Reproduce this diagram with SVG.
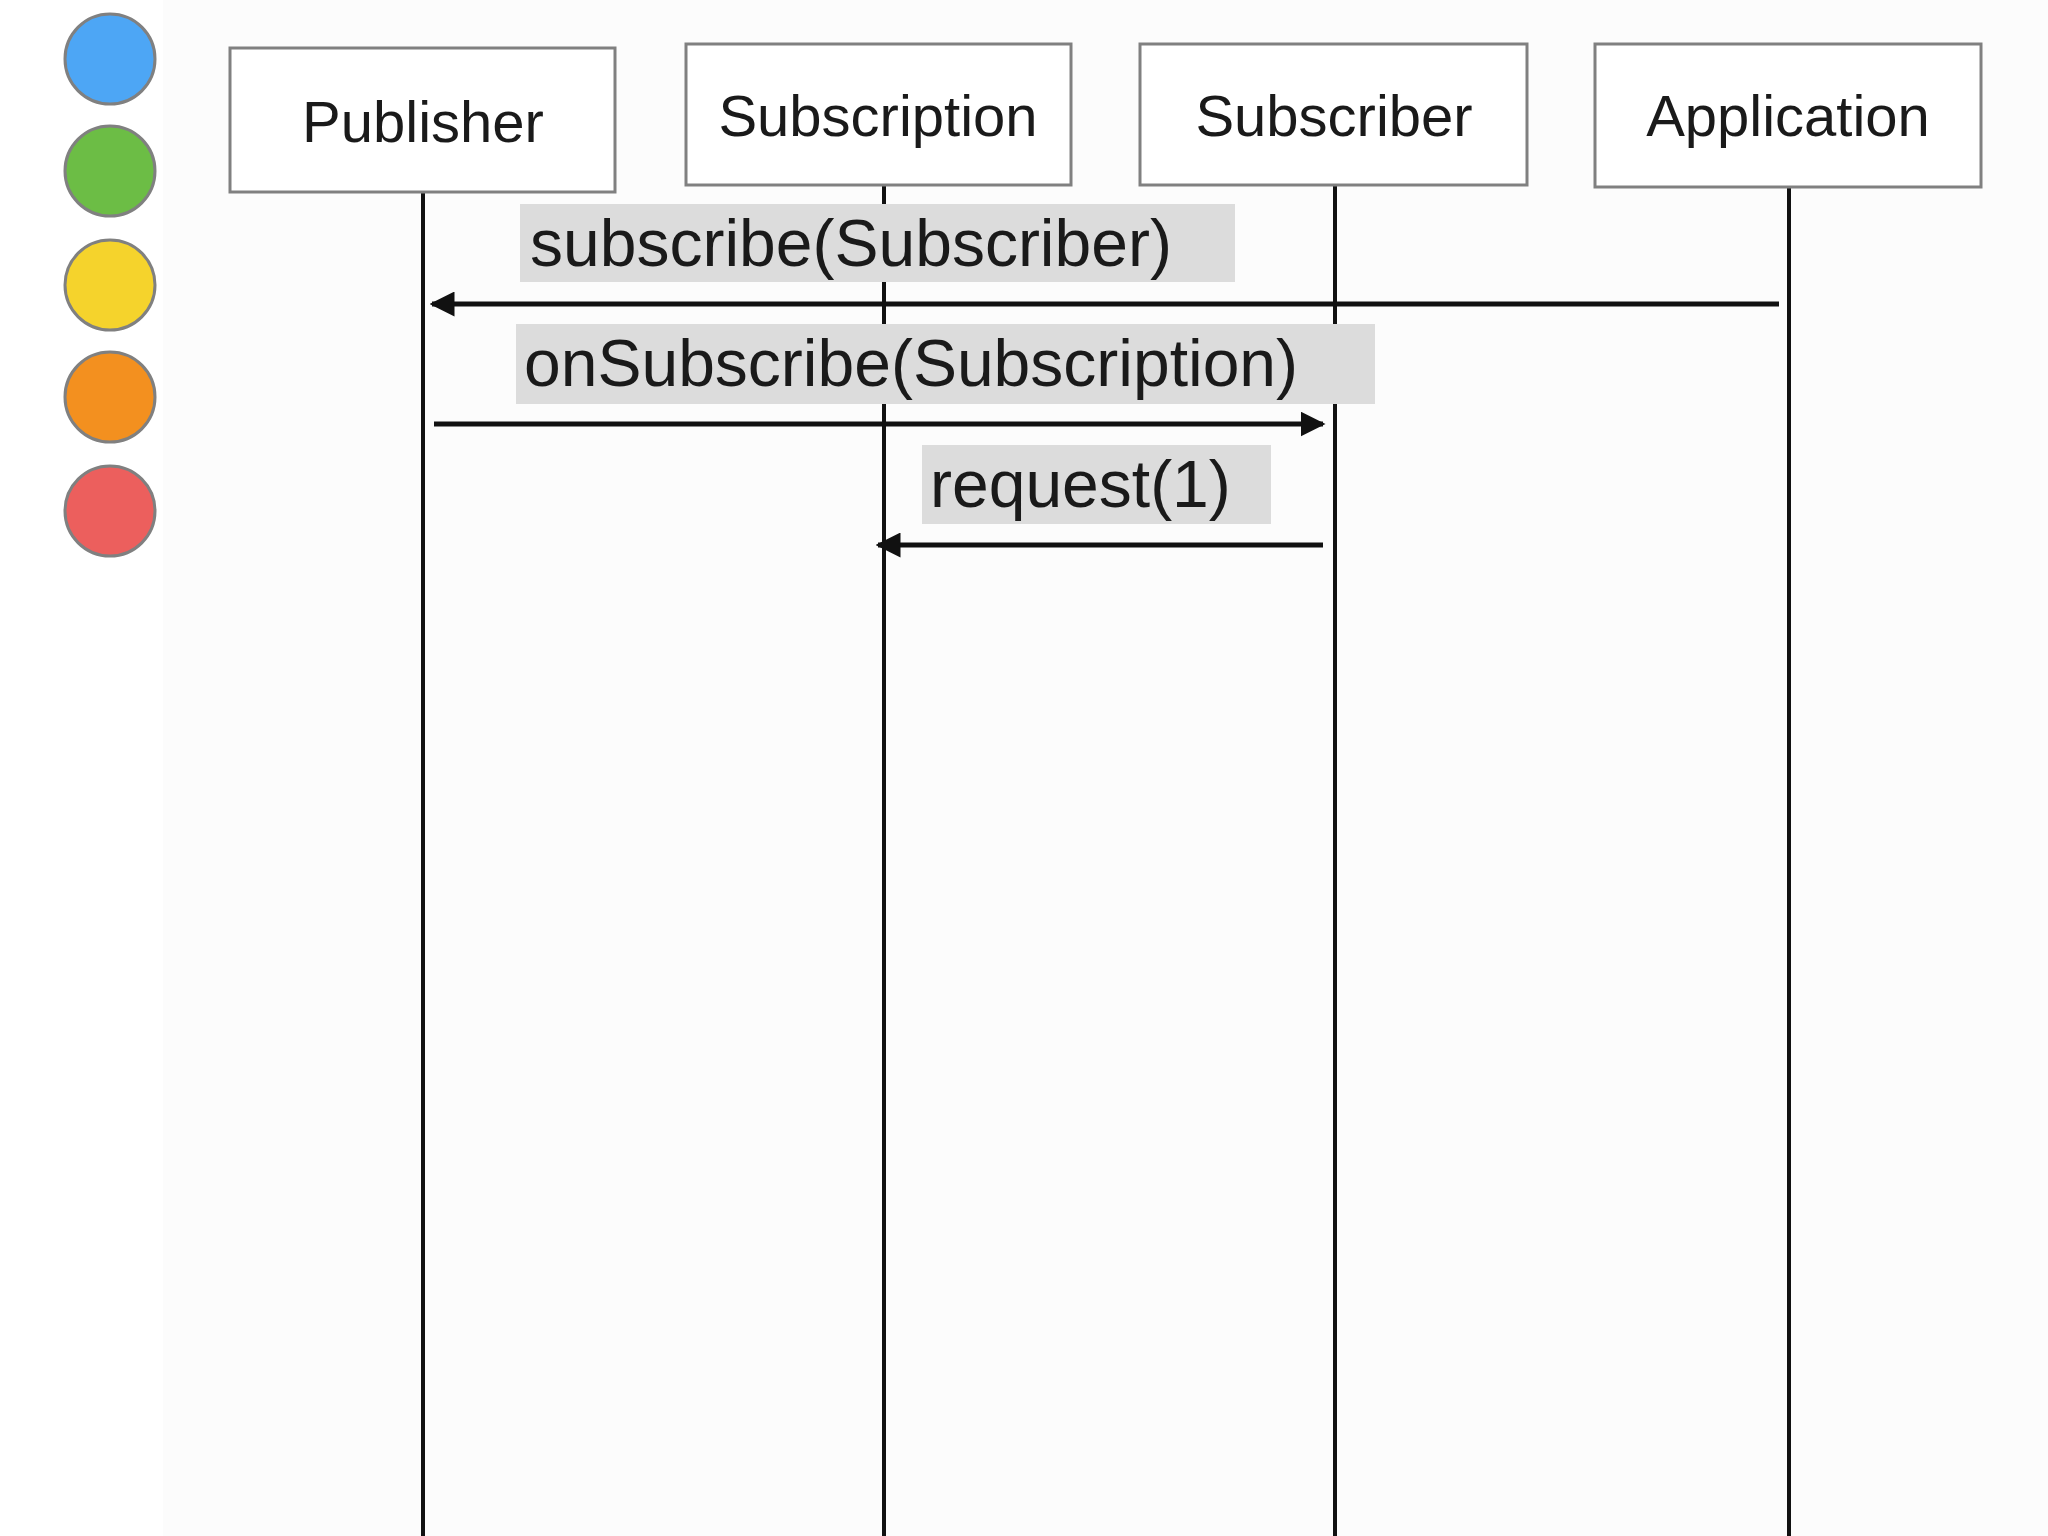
<svg xmlns="http://www.w3.org/2000/svg" width="2048" height="1536" viewBox="0 0 2048 1536">
<defs>
<style>
.box{fill:#fff;stroke:#808080;stroke-width:3}
.t{font-family:"Liberation Sans",Arial,sans-serif;font-size:58px;fill:#1a1a1a;text-anchor:middle}
.lbl{font-family:"Liberation Sans",Arial,sans-serif;font-size:66px;fill:#1a1a1a}
.lbg{fill:#dcdcdc}
.life{stroke:#111;stroke-width:4}
.msg{stroke:#111;stroke-width:5;fill:none}
.dot{stroke:#808080;stroke-width:3}
</style>
<marker id="ah" viewBox="0 0 10 10" refX="9" refY="5" markerWidth="5" markerHeight="5" orient="auto" markerUnits="strokeWidth"><path d="M0,0 L10,5 L0,10 z" fill="#111"/></marker>
</defs>
<rect width="2048" height="1536" fill="#fff"/>
<rect x="163" y="0" width="1885" height="1536" fill="#fcfcfc"/>
<g id="legend">
<circle class="dot" cx="110" cy="59" r="45" fill="#4da6f5"/>
<circle class="dot" cx="110" cy="171" r="45" fill="#6cbd45"/>
<circle class="dot" cx="110" cy="285" r="45" fill="#f5d32c"/>
<circle class="dot" cx="110" cy="397" r="45" fill="#f3901f"/>
<circle class="dot" cx="110" cy="511" r="45" fill="#ec5f5d"/>
</g>
<g id="lifelines">
<line class="life" x1="423" y1="192" x2="423" y2="1536"/>
<line class="life" x1="884" y1="185" x2="884" y2="1536"/>
<line class="life" x1="1335" y1="185" x2="1335" y2="1536"/>
<line class="life" x1="1789" y1="187" x2="1789" y2="1536"/>
</g>
<g id="publisher"><rect class="box" x="230" y="48" width="385" height="144"/><text class="t" x="423" y="142">Publisher</text></g>
<g id="subscription"><rect class="box" x="686" y="44" width="385" height="141"/><text class="t" x="878" y="136">Subscription</text></g>
<g id="subscriber"><rect class="box" x="1140" y="44" width="387" height="141"/><text class="t" x="1334" y="136">Subscriber</text></g>
<g id="application"><rect class="box" x="1595" y="44" width="386" height="143"/><text class="t" x="1788" y="136">Application</text></g>
<g id="connectors">
<rect class="lbg" x="520" y="204" width="715" height="78"/>
<text class="lbl" x="530" y="266">subscribe(Subscriber)</text>
<line class="msg" x1="1779" y1="304" x2="432" y2="304" marker-end="url(#ah)"/>
<rect class="lbg" x="516" y="324" width="859" height="80"/>
<text class="lbl" x="524" y="386">onSubscribe(Subscription)</text>
<line class="msg" x1="434" y1="424" x2="1323" y2="424" marker-end="url(#ah)"/>
<rect class="lbg" x="922" y="445" width="349" height="79"/>
<text class="lbl" x="930" y="507">request(1)</text>
<line class="msg" x1="1323" y1="545" x2="878" y2="545" marker-end="url(#ah)"/>
</g>
</svg>
